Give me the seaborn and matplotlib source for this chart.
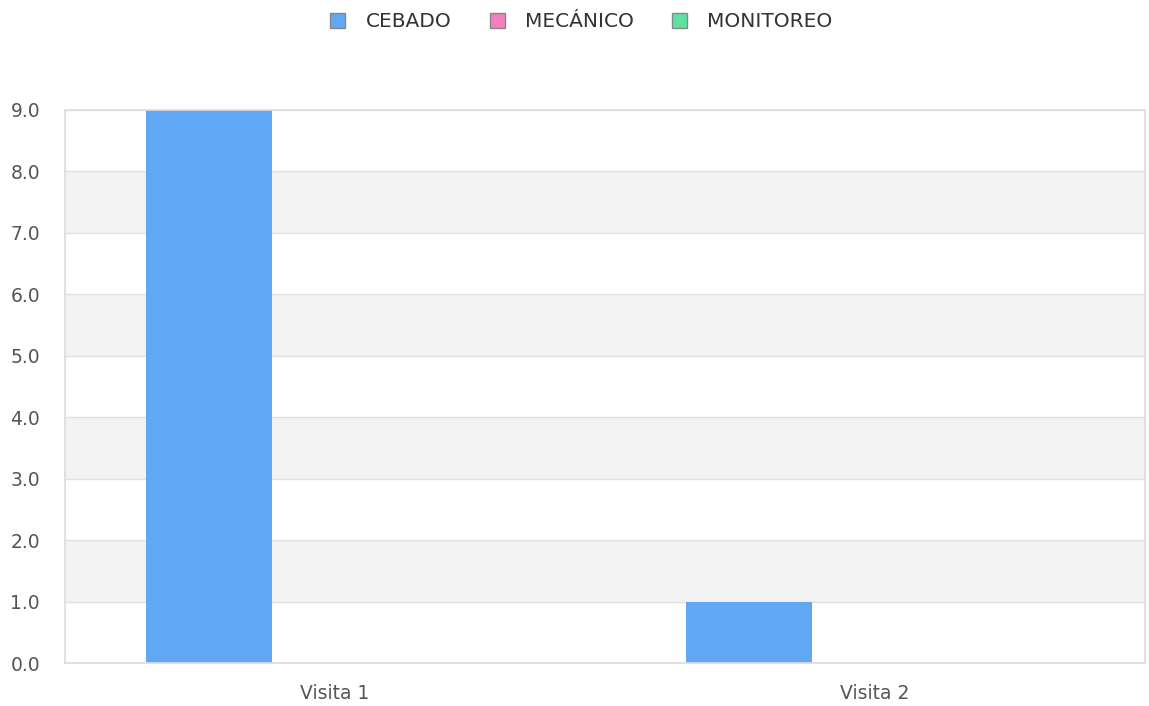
import pandas as pd
import numpy as np
import matplotlib.pyplot as plt
import seaborn as sns

sns.set_theme(style="white")
plt.rcParams['font.family'] = ['DejaVu Sans']

visits = ['Visita 1', 'Visita 2']
series = ['CEBADO', 'MECÁNICO', 'MONITOREO']
cebado = [9, 1]
mecanico = [0, 0]
monitoreo = [0, 0]
colors = ['#60a8f4', '#f47fbf', '#5fe0a0']

df = pd.DataFrame({
    'visita': visits * 3,
    'tipo': [s for s in series for _ in visits],
    'valor': cebado + mecanico + monitoreo,
})

fig = plt.figure(figsize=(11.49, 7.06), dpi=100)
ax = fig.add_axes([0.0566, 0.0609, 0.94, 0.7833])

# alternating background bands
for y0 in range(0, 9):
    if y0 % 2 == 1:
        ax.axhspan(y0, y0 + 1, color='#f3f3f3', zorder=0, lw=0)

sns.barplot(data=df, x='visita', y='valor', hue='tipo', hue_order=series,
            palette=colors, width=0.7, ax=ax, legend=False, zorder=2,
            saturation=1, linewidth=0)

ax.set_ylim(0, 9)
ax.set_yticks(np.arange(0, 10, 1))
ax.set_yticklabels([f'{v:.1f}' for v in range(10)])
ax.grid(axis='y', color='#e0e0e0', linewidth=1, zorder=1)
ax.set_axisbelow(True)
ax.set_xlabel('')
ax.set_ylabel('')
for s in ax.spines.values():
    s.set_color('#dddddd')
ax.tick_params(axis='both', length=0, labelsize=13.5, colors='#555555')
ax.tick_params(axis='y', pad=18)
ax.tick_params(axis='x', pad=15)

handles = [plt.Rectangle((0, 0), 1, 1, facecolor=c, edgecolor='#888888', lw=1) for c in colors]
fig.legend(handles, series, loc='center', bbox_to_anchor=(0.506, 0.969), ncol=3,
           frameon=False, fontsize=14.5, handlelength=0.75, handleheight=0.75,
           columnspacing=1.9, handletextpad=1.0, labelcolor='#333333')

fig.savefig('out.png', dpi=100)
